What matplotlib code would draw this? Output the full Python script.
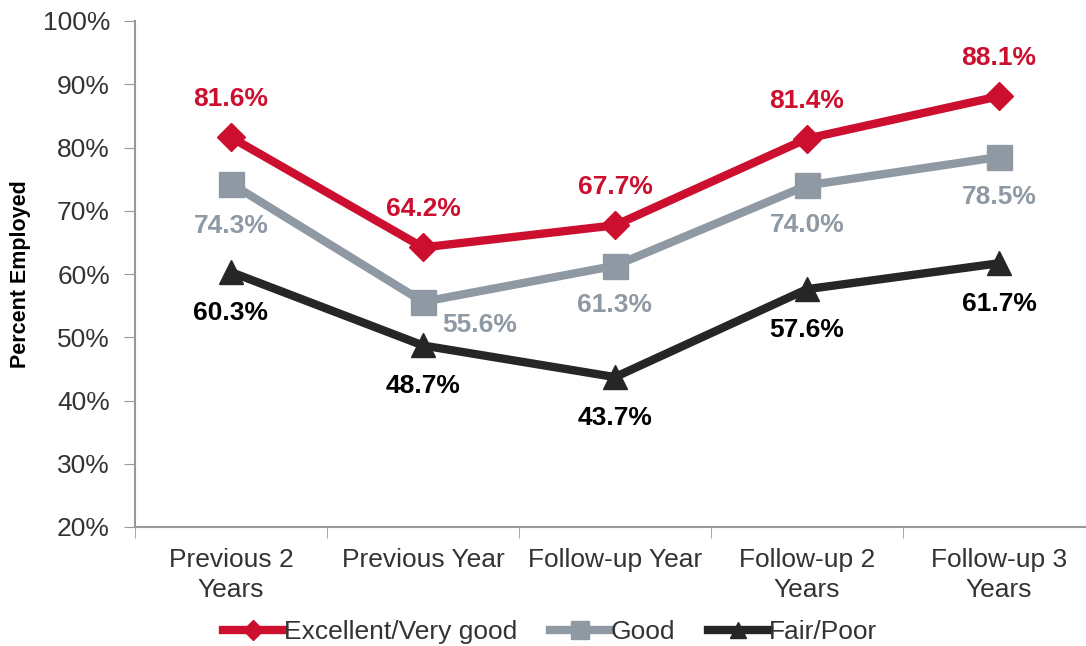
import matplotlib.pyplot as plt
from matplotlib.ticker import FuncFormatter

plt.rcParams['font.family'] = ['Liberation Sans', 'DejaVu Sans']

categories = ["Previous 2\nYears", "Previous Year", "Follow-up Year",
              "Follow-up 2\nYears", "Follow-up 3\nYears"]
excellent = [81.6, 64.2, 67.7, 81.4, 88.1]
good = [74.3, 55.6, 61.3, 74.0, 78.5]
fair = [60.3, 48.7, 43.7, 57.6, 61.7]

red = "#CC0F2E"
grey = "#8F99A3"
black = "#262626"

fig = plt.figure(figsize=(10.86, 6.46), dpi=100)
ax = fig.add_axes([135 / 1086, 1 - 527 / 646, 960 / 1086, 506 / 646])

x = range(len(categories))
ax.plot(x, excellent, color=red, lw=6, marker="D", ms=14, label="Excellent/Very good", zorder=4)
ax.plot(x, good, color=grey, lw=6, marker="s", ms=18, label="Good", zorder=3)
ax.plot(x, fair, color=black, lw=6, marker="^", ms=17, label="Fair/Poor", zorder=2)

# data labels
for i, v in enumerate(excellent):
    ax.annotate("{:.1f}%".format(v), (i, v), xytext=(0, 38), textcoords="offset pixels",
                ha="center", va="center", color=red, fontsize=19, fontweight="bold")
good_off = [(0, -42), (57, -23), (0, -39), (0, -40), (0, -40)]
for i, v in enumerate(good):
    ax.annotate("{:.1f}%".format(v), (i, v), xytext=good_off[i], textcoords="offset pixels",
                ha="center", va="center", color=grey, fontsize=19, fontweight="bold")
for i, v in enumerate(fair):
    ax.annotate("{:.1f}%".format(v), (i, v), xytext=(0, -41), textcoords="offset pixels",
                ha="center", va="center", color="black", fontsize=19, fontweight="bold")

ax.set_xlim(-0.5, 4.5)
ax.set_ylim(20, 100)
ax.set_yticks(range(20, 101, 10))
ax.yaxis.set_major_formatter(FuncFormatter(lambda v, p: "{:.0f}%".format(v)))
ax.set_xticks(list(x))
ax.set_xticklabels(categories, fontsize=19, color="#333333", linespacing=1.3)
ax.set_xticks([i - 0.5 for i in range(6)], minor=True)
ax.tick_params(axis="x", which="major", length=0, pad=15)
ax.tick_params(axis="x", which="minor", length=8, color="#999999", direction="out")
ax.tick_params(axis="y", labelsize=19, labelcolor="#333333", length=8, color="#999999", pad=10)
for s in ["top", "right"]:
    ax.spines[s].set_visible(False)
for s in ["left", "bottom"]:
    ax.spines[s].set_color("#999999")
    ax.spines[s].set_linewidth(1.5)

ax.set_ylabel("Percent Employed", fontsize=15.5, fontweight="bold")
ax.yaxis.set_label_coords(-104 / 960, 0.5)

leg = fig.legend(loc="center", bbox_to_anchor=(550 / 1086, 1 - 632 / 646), ncol=3,
                 frameon=False, fontsize=19, handlelength=2.3, handletextpad=0.0,
                 columnspacing=1.25, markerscale=0.7)
for t in leg.get_texts():
    t.set_color("#333333")

fig.savefig("out.png", dpi=100)
